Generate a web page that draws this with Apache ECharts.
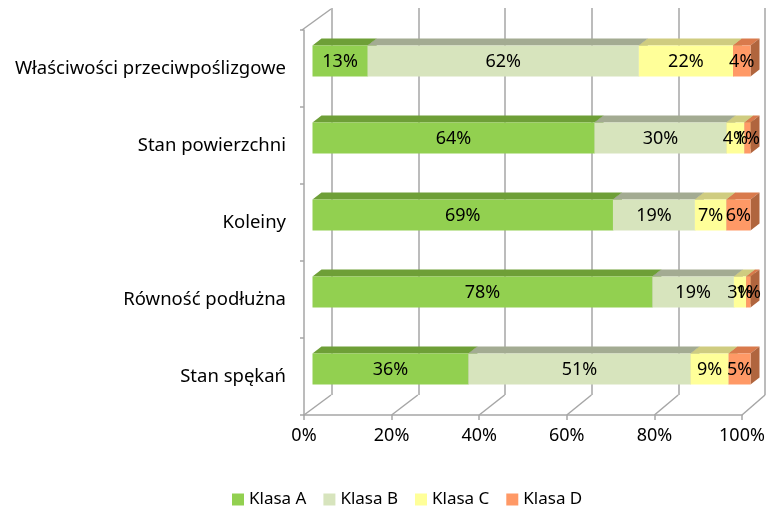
<!DOCTYPE html>
<html>
<head>
<meta charset="utf-8">
<script src="https://cdn.jsdelivr.net/npm/echarts@6/dist/echarts.min.js"></script>
<style>
html, body { margin: 0; padding: 0; background: #fff; }
#chart { width: 771px; height: 508px; }
</style>
</head>
<body>
<div id="chart"></div>
<script>
var categories = ['Właściwości przeciwpoślizgowe', 'Stan powierzchni', 'Koleiny', 'Równość podłużna', 'Stan spękań'];
var seriesNames = ['Klasa A', 'Klasa B', 'Klasa C', 'Klasa D'];
// shares per category (%)
var klasaA = [12.6, 64.4, 68.6, 77.6, 35.6];
var klasaB = [61.9, 30.1, 18.7, 18.6, 50.7];
var klasaC = [21.5, 4.1, 7.2, 2.8, 8.7];
var klasaD = [4.0, 1.4, 5.5, 1.0, 5.0];
var xTicks = [0, 20, 40, 60, 80, 100];

var frontColors = ['#92D050', '#D7E4BD', '#FFFF99', '#FF9966'];
var topColors = ['#6E9F37', '#A3AB92', '#CFCC80', '#D97A4C'];
var sideColors = ['#5E8A2E', '#8E9580', '#B4B16E', '#B0653E'];

var FONT = '"Noto Sans", sans-serif';

var chart = echarts.init(document.getElementById('chart'));

var all = [klasaA, klasaB, klasaC, klasaD];
var starts = categories.map(function () { return 0; });

var barSeries = all.map(function (vals, si) {
    var data = vals.map(function (v, ci) {
        var item = [ci, starts[ci], v];
        starts[ci] += v;
        return item;
    });
    return {
        name: seriesNames[si],
        type: 'custom',
        xAxisIndex: 0,
        yAxisIndex: 0,
        itemStyle: { color: frontColors[si] },
        data: data,
        renderItem: function (params, api) {
            var cat = api.value(0), s = api.value(1), v = api.value(2);
            var p0 = api.coord([s, cat]);
            var p1 = api.coord([s + v, cat]);
            var h = 31, ox = 8.5, oy = -7.5, dx = 9, dy = -7;
            var x0 = p0[0] + ox, x1 = p1[0] + ox;
            var yc = p0[1] + oy;
            var top = yc - h / 2, bot = yc + h / 2;
            return {
                type: 'group',
                children: [
                    { type: 'polygon', shape: { points: [[x0, top], [x1, top], [x1 + dx, top + dy], [x0 + dx, top + dy]] },
                      style: { fill: topColors[si] } },
                    { type: 'polygon', shape: { points: [[x1, top], [x1 + dx, top + dy], [x1 + dx, bot + dy], [x1, bot]] },
                      style: { fill: sideColors[si] } },
                    { type: 'rect', shape: { x: x0, y: top, width: x1 - x0, height: h },
                      style: { fill: frontColors[si] } },
                    { type: 'text', style: { text: Math.round(v) + '%', x: (x0 + x1) / 2, y: yc + 1,
                      align: 'center', verticalAlign: 'middle', font: '18px ' + FONT, fill: '#000' }, z2: 10 }
                ]
            };
        }
    };
});

// floor lines joining the front axis to the back wall
var floorSeries = {
    type: 'custom',
    silent: true,
    xAxisIndex: 0,
    yAxisIndex: 0,
    data: xTicks,
    z: 1,
    renderItem: function (params, api) {
        var v = api.value(0);
        var cs = params.coordSys;
        var x = api.coord([v, 0])[0];
        var b = cs.y + cs.height;
        var dx = 27 - 4 * v / 100;
        var kids = [{ type: 'line', shape: { x1: x, y1: b, x2: x + dx, y2: b - 20 },
                      style: { stroke: '#A6A6A6', lineWidth: 1.5 } }];
        if (v === 0) {
            kids.push({ type: 'line', shape: { x1: x - 2, y1: cs.y, x2: x + dx, y2: cs.y - 21 },
                        style: { stroke: '#A6A6A6', lineWidth: 1.5 } });
        }
        return { type: 'group', children: kids };
    }
};

var option = {
    backgroundColor: '#fff',
    animation: false,
    textStyle: { fontFamily: FONT },
    legend: {
        data: seriesNames,
        left: 227,
        top: 486,
        icon: 'rect',
        itemWidth: 12,
        itemHeight: 12,
        itemGap: 17,
        textStyle: { fontSize: 17, color: '#000', fontFamily: FONT }
    },
    grid: [
        { left: 304, right: 29, top: 30, bottom: 93 },
        { left: 332, right: 6, top: 8, bottom: 113 }
    ],
    xAxis: [
        {
            gridIndex: 0, type: 'value', min: 0, max: 100, interval: 20,
            axisLine: { show: true, lineStyle: { color: '#A6A6A6', width: 1.5 } },
            axisTick: { show: true, length: 5, lineStyle: { color: '#A6A6A6', width: 1.5 } },
            splitLine: { show: false },
            axisLabel: { formatter: '{value}%', fontSize: 18, color: '#000', margin: 12, fontFamily: FONT }
        },
        {
            gridIndex: 1, type: 'value', min: 0, max: 100, interval: 20,
            axisLine: { show: false }, axisTick: { show: false }, axisLabel: { show: false },
            splitLine: { show: true, lineStyle: { color: '#A6A6A6', width: 1.5 } }
        }
    ],
    yAxis: [
        {
            gridIndex: 0, type: 'category', data: categories, inverse: true,
            axisLine: { show: true, lineStyle: { color: '#A6A6A6', width: 1.5 } },
            axisTick: { show: true, length: 4, lineStyle: { color: '#A6A6A6', width: 1.5 } },
            axisLabel: { fontSize: 18.5, color: '#000', margin: 18, fontFamily: FONT }
        },
        {
            gridIndex: 1, type: 'category', data: categories, inverse: true, show: false
        }
    ],
    series: [floorSeries].concat(barSeries)
};
chart.setOption(option);
</script>
</body>
</html>
